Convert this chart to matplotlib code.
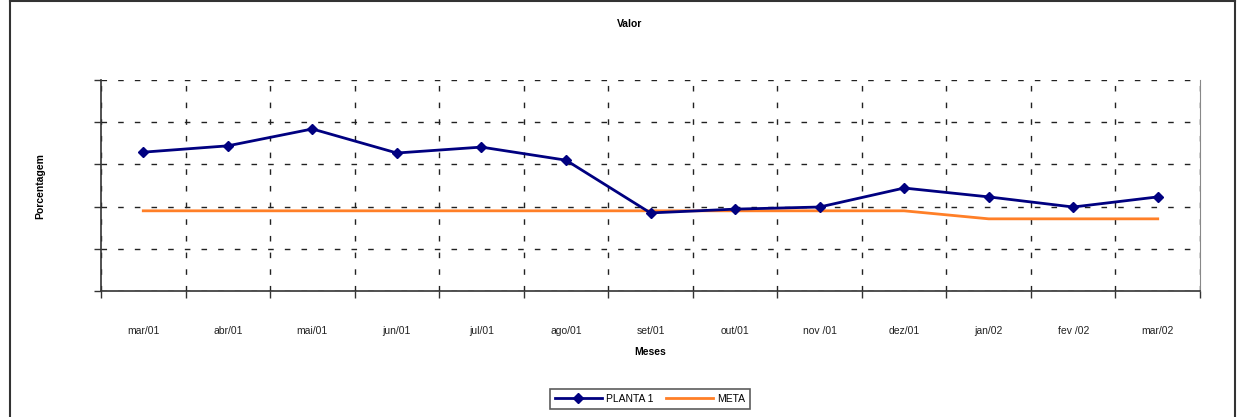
import matplotlib.pyplot as plt
from matplotlib.lines import Line2D

# data
meses = ["mar/01", "abr/01", "mai/01", "jun/01", "jul/01", "ago/01", "set/01",
         "out/01", "nov /01", "dez/01", "jan/02", "fev /02", "mar/02"]
planta_1 = [3.29, 3.44, 3.84, 3.27, 3.41, 3.10, 1.85, 1.94, 1.99, 2.44, 2.23, 1.99, 2.23]
meta = [1.90, 1.90, 1.90, 1.90, 1.90, 1.90, 1.90, 1.90, 1.90, 1.90, 1.71, 1.71, 1.71]

plt.rcParams["font.family"] = ["Liberation Sans", "DejaVu Sans"]

fig = plt.figure(figsize=(12.45, 4.17), dpi=100)
ax = fig.add_axes([101/1245, 1-291/417, 1099/1245, 211/417])

x = list(range(len(meses)))
ax.plot(x, planta_1, color="#000080", lw=2, marker="D", ms=5, label="PLANTA 1", zorder=4)
ax.plot(x, meta, color="#FF7F27", lw=2, label="META", zorder=3)

ax.set_xlim(-0.5, len(meses) - 0.5)
ax.set_ylim(0, 5)

# category ticks at boundaries, labels at centers
ax.set_xticks([i - 0.5 for i in range(len(meses) + 1)])
ax.set_xticklabels([])
ax.set_xticks(x, minor=True)
ax.set_xticklabels(meses, minor=True, fontsize=7.5, color="#222222")
ax.tick_params(axis="x", which="minor", length=0, pad=25)
ax.tick_params(axis="x", which="major", length=5, width=1, direction="out", color="#333333")
ax.set_yticks([0, 1, 2, 3, 4, 5])
ax.set_yticklabels([])
ax.tick_params(axis="y", length=5, width=1, direction="out", color="#333333")

ax.grid(True, which="major", color="#222222", ls=(0, (4, 8)), lw=1)
ax.spines["top"].set_visible(False)
ax.spines["right"].set_color("#888888")
for s in ["left", "bottom"]:
    ax.spines[s].set_color("#333333")
    ax.spines[s].set_linewidth(1.2)

fig.text(630/1245, 1-24/417, "Valor", ha="center", va="center", fontsize=7.5, fontweight="bold")
fig.text(650/1245, 1-352/417, "Meses", ha="center", va="center", fontsize=7.5, fontweight="bold")
fig.text(40/1245, 1-186/417, "Porcentagem", ha="center", va="center", rotation=90, fontsize=7.5, fontweight="bold")

leg = fig.legend(loc="center", bbox_to_anchor=(650/1245, 1-399/417), ncol=2, fontsize=7.5,
                 frameon=True, fancybox=False, edgecolor="#333333", handlelength=4.5,
                 columnspacing=1.2, handletextpad=0.4, borderpad=0.5)
leg.get_frame().set_linewidth(1.2)

# outer chart frame
for xx in [10/1245, 1235/1245]:
    fig.add_artist(Line2D([xx, xx], [0, 1], color="#333333", lw=1.5))
fig.add_artist(Line2D([10/1245, 1235/1245], [1-1/417, 1-1/417], color="#333333", lw=1.5))

fig.savefig("out.png", dpi=100)
